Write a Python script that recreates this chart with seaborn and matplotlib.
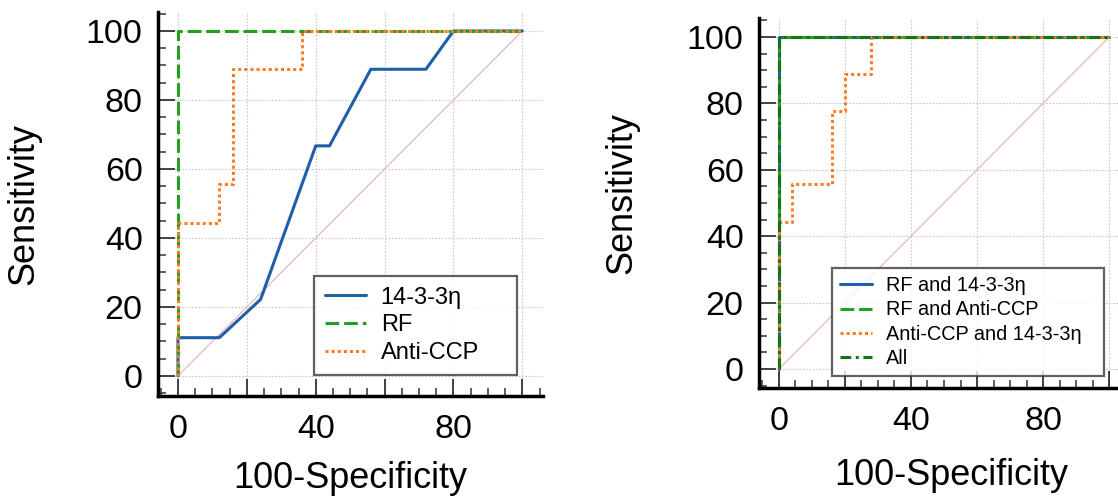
import numpy as np
import pandas as pd
import seaborn as sns
import matplotlib
matplotlib.use("Agg")
import matplotlib.pyplot as plt
from matplotlib.ticker import MultipleLocator, FixedLocator, FixedFormatter

# ---------------- data ----------------
# Left panel
l_1433_x = [0, 0, 12, 24, 40, 44, 56, 72, 80, 100]
l_1433_y = [0, 11.1, 11.1, 22.2, 66.7, 66.7, 88.9, 88.9, 100, 100]
l_rf_x = [0, 0, 100]
l_rf_y = [0, 100, 100]
l_ccp_x = [0, 0, 12, 12, 16, 16, 36, 36, 100]
l_ccp_y = [0, 44.4, 44.4, 55.6, 55.6, 88.9, 88.9, 100, 100]

# Right panel
r_rf1433_x = [0, 0, 100]
r_rf1433_y = [0, 100, 100]
r_rfccp_x = [0, 0, 100]
r_rfccp_y = [0, 100, 100]
r_ccp1433_x = [0, 0, 4, 4, 16, 16, 20, 20, 28, 28, 100]
r_ccp1433_y = [0, 44.4, 44.4, 55.6, 55.6, 77.8, 77.8, 88.9, 88.9, 100, 100]
r_all_x = [0, 0, 100]
r_all_y = [0, 100, 100]

diag = [0, 100]
tick_vals = [0, 20, 40, 60, 80, 100]
x_tick_labels = ["0", "", "40", "", "80", ""]
y_tick_labels = ["0", "20", "40", "60", "80", "100"]

left_labels = ["14-3-3η", "RF", "Anti-CCP"]
right_labels = ["RF and 14-3-3η", "RF and Anti-CCP", "Anti-CCP and 14-3-3η", "All"]

# ---------------- style ----------------
sns.set_theme(style="white")
plt.rcParams['font.family'] = ['Liberation Sans', 'DejaVu Sans']
plt.rcParams['text.color'] = 'black'
plt.rcParams['axes.labelcolor'] = 'black'
plt.rcParams['xtick.color'] = 'black'
plt.rcParams['ytick.color'] = 'black'

BLUE = "#1f5ea8"
GREEN = "#22a01e"
ORANGE = "#ff7b24"
DKGREEN = "#187018"
DIAG = "#e8b0b0"

fig = plt.figure(figsize=(11.18, 4.98), dpi=100)
W, H = 1118, 498
ax1 = fig.add_axes([158 / W, 1 - 396 / H, 385 / W, 384 / H])
ax2 = fig.add_axes([759 / W, 1 - 388 / H, 370 / W, 370 / H])


def line(ax, xs, ys, color, ls, lw=2.0, dashes=None, z=3):
    df = pd.DataFrame({"x": xs, "y": ys})
    sns.lineplot(data=df, x="x", y="y", ax=ax, sort=False, estimator=None,
                 color=color, linestyle=ls, linewidth=lw, zorder=z)
    ln = ax.lines[-1]
    if dashes is not None:
        ln.set_dashes(dashes)
    return ln


def style_axes(ax, ylim, xlim):
    ax.set_xlim(*xlim)
    ax.set_ylim(*ylim)
    for s in ["top", "right"]:
        ax.spines[s].set_visible(False)
    for s in ["left", "bottom"]:
        ax.spines[s].set_linewidth(2.5)
        ax.spines[s].set_color("black")
    ax.xaxis.set_major_locator(FixedLocator(tick_vals))
    ax.xaxis.set_major_formatter(FixedFormatter(x_tick_labels))
    ax.yaxis.set_major_locator(FixedLocator(tick_vals))
    ax.yaxis.set_major_formatter(FixedFormatter(y_tick_labels))
    ax.xaxis.set_minor_locator(MultipleLocator(5))
    ax.yaxis.set_minor_locator(MultipleLocator(5))
    ax.tick_params(which="major", direction="in", length=12, width=1.3,
                   color="#333333", labelcolor="black", labelsize=24.5,
                   bottom=True, left=True)
    ax.tick_params(axis="x", which="major", pad=13)
    ax.tick_params(axis="y", which="major", pad=11)
    ax.tick_params(which="minor", direction="in", length=6, width=1.1,
                   color="#333333", bottom=True, left=True)
    ax.grid(True, which="major", color="#c8c8c8", linestyle=(0, (1.5, 1.5)),
            linewidth=0.8, zorder=0)
    ax.set_axisbelow(True)
    ax.set_xlabel("100-Specificity", fontsize=26, color="black")
    ax.set_ylabel("Sensitivity", fontsize=26, color="black")
    ax.set_facecolor("white")


def style_legend(leg):
    fr = leg.get_frame()
    fr.set_edgecolor("#3a3a3a")
    fr.set_linewidth(1.6)
    for t in leg.get_texts():
        t.set_color("black")


# ---------------- left panel ----------------
line(ax1, diag, diag, DIAG, "-", lw=0.8, z=2)
h1 = line(ax1, l_1433_x, l_1433_y, BLUE, "-", lw=2.2)
h2 = line(ax1, l_rf_x, l_rf_y, GREEN, "--", lw=2.2, dashes=(4.5, 1.6))
h3 = line(ax1, l_ccp_x, l_ccp_y, ORANGE, ":", lw=2.2, dashes=(1, 1))
style_axes(ax1, (-5.8, 105.5), (-5.8, 106))
ax1.xaxis.set_label_coords(0.5, -0.168)
ax1.yaxis.set_label_coords(-0.302, 0.5)
leg1 = ax1.legend([h1, h2, h3], left_labels, loc="lower left",
                  bbox_to_anchor=(0.405, 0.0547, 0.527, 0.255), mode="expand",
                  borderaxespad=0, fontsize=17, frameon=True, fancybox=False,
                  handlelength=1.74, handletextpad=0.64, labelspacing=0.25,
                  borderpad=0.45)
style_legend(leg1)

# ---------------- right panel ----------------
line(ax2, diag, diag, DIAG, "-", lw=0.8, z=2)
g1 = line(ax2, r_rf1433_x, r_rf1433_y, BLUE, "-", lw=2.2)
g2 = line(ax2, r_rfccp_x, r_rfccp_y, GREEN, "--", lw=2.2, dashes=(4.5, 1.6))
g3 = line(ax2, r_ccp1433_x, r_ccp1433_y, ORANGE, ":", lw=2.2, dashes=(1, 1))
g4 = line(ax2, r_all_x, r_all_y, DKGREEN, "-.", lw=2.2, dashes=(3.5, 1.5, 1, 1.5))
style_axes(ax2, (-5.7, 105.7), (-6, 106))
ax2.xaxis.set_label_coords(0.519, -0.19)
ax2.yaxis.set_label_coords(-0.322, 0.526)
leg2 = ax2.legend([g1, g2, g3, g4], right_labels, loc="lower left",
                  bbox_to_anchor=(0.197, 0.032, 0.735, 0.29), mode="expand",
                  borderaxespad=0, fontsize=14.3, frameon=True, fancybox=False,
                  handlelength=1.6, handletextpad=0.72, labelspacing=0.26,
                  borderpad=0.42)
style_legend(leg2)

fig.savefig("out.png", dpi=100)
